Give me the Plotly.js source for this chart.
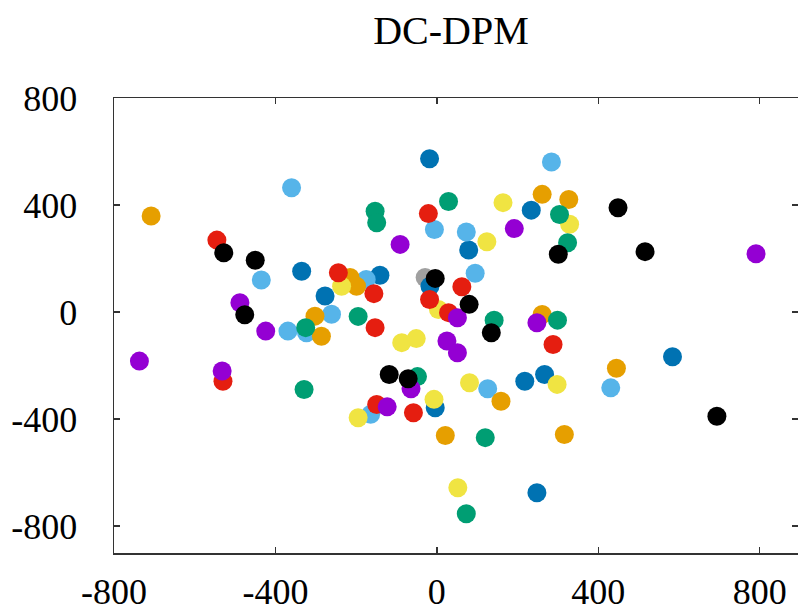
<!DOCTYPE html>
<html>
<head>
<meta charset="utf-8">
<script src="https://cdn.plot.ly/plotly-3.0.1.min.js"></script>
<style>html,body{margin:0;padding:0;background:#fff;overflow:hidden}#chart{width:798px;height:615px}</style>
</head>
<body>
<div id="chart"></div>
<script>
// Cluster centres (data units)
const purpleX = [-488, -424, -737, -532, -91, 192, 51, 248, 25, 51, -64, -123, 791];
const purpleY = [35, -71, -183, -220, 253, 312, -21, -40, -108, -152, -286, -354, 218];
const greenX = [29, -153, -149, 304, 324, -195, 142, 299, -325, -329, -48, 120, 73];
const greenY = [413, 377, 334, 365, 259, -16, -30, -30, -58, -289, -241, -469, -753];
const lightBlueX = [-360, 284, -435, -6, 73, 95, -175, -261, -369, -323, 126, -164, 431];
const lightBlueY = [465, 561, 120, 309, 299, 145, 122, -8, -71, -77, -286, -382, -283];
const orangeX = [-708, 261, 327, -215, -199, -302, -286, 261, 159, 445, 21, 316];
const orangeY = [359, 440, 421, 129, 97, -15, -90, -9, -333, -210, -461, -457];
const yellowX = [164, 124, 329, -236, 4, -87, -51, 81, 298, -7, -195, 52];
const yellowY = [409, 263, 328, 97, 10, -114, -99, -264, -270, -326, -395, -656];
const blueX = [-18, 234, -335, 79, -141, -277, -17, 218, 267, -4, 584, 248];
const blueY = [573, 381, 153, 232, 138, 60, 97, -258, -233, -357, -167, -675];
const redX = [-545, -21, -244, -156, 62, -18, 29, -153, 288, -530, -149, -58];
const redY = [269, 368, 147, 69, 95, 47, -2, -58, -121, -258, -345, -376];
const blackX = [-528, -450, -476, -4, 80, 135, 301, 449, 516, -118, -71, 694];
const blackY = [222, 194, -10, 126, 29, -77, 216, 390, 226, -233, -249, -389];
const grayX = [-29];
const grayY = [129];

const tickVals = [-800, -400, 0, 400, 800];
const tickText = ['-800', '-400', '0', '400', '800'];

function series(x, y, color) {
  return {
    type: 'scatter', mode: 'markers', x: x, y: y,
    marker: {color: color, size: 19, symbol: 'circle', line: {width: 0}},
    hoverinfo: 'x+y', showlegend: false
  };
}

const data = [
  series(grayX, grayY, '#a0a0a0'),
  series(blueX, blueY, '#0072b2'),
  series(lightBlueX, lightBlueY, '#56b4e9'),
  series(orangeX, orangeY, '#e69f00'),
  series(yellowX, yellowY, '#f0e442'),
  series(greenX, greenY, '#009e73'),
  series(redX, redY, '#e51e10'),
  series(purpleX, purpleY, '#9400d3'),
  series(blackX, blackY, '#000000')
];

const axisCommon = {
  showgrid: false, zeroline: false, showline: true, mirror: 'ticks',
  linecolor: '#333', linewidth: 1.5, ticks: 'inside', ticklen: 6,
  tickcolor: '#333', tickwidth: 1.5,
  tickfont: {family: 'Liberation Serif, Times New Roman, serif', size: 36, color: '#000'},
  tickmode: 'array', tickvals: tickVals, ticktext: tickText
};

const layout = {
  width: 798, height: 615,
  margin: {l: 114, r: 0, t: 98, b: 62},
  paper_bgcolor: '#fff', plot_bgcolor: '#fff',
  title: {
    text: 'DC-DPM',
    font: {family: 'Liberation Serif, Times New Roman, serif', size: 40, color: '#000'},
    x: 0.4927, xref: 'paper', xanchor: 'center',
    y: 0.951, yref: 'container', yanchor: 'middle'
  },
  xaxis: Object.assign({}, axisCommon, {range: [-800, 895], ticklabelstandoff: 6}),
  yaxis: Object.assign({}, axisCommon, {range: [-900, 800], ticklabelstandoff: 28})
};

Plotly.newPlot('chart', data, layout, {displayModeBar: false, staticPlot: true});
</script>
</body>
</html>
